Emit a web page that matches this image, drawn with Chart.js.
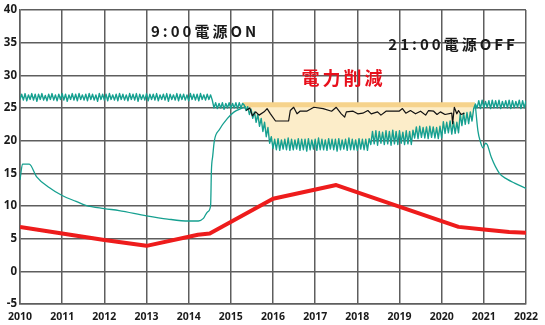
<!DOCTYPE html>
<html lang="ja">
<head>
<meta charset="utf-8">
<title>室温と電力削減</title>
<script src="https://cdn.jsdelivr.net/npm/chart.js@4/dist/chart.umd.min.js"></script>
<style>
  html, body { margin: 0; padding: 0; background: #fff; }
  #chart { display: block; }
</style>
</head>
<body>
<canvas id="chart" width="545" height="325"></canvas>
<script>
// x axis range and tick labels
const X_MIN = 2010;
const X_MAX = 2022;
const Y_MIN = -5;
const Y_MAX = 40;

// room temperature (controlled), sampled every ROOM_STEP from ROOM_START
const ROOM_START = 2010;
const ROOM_STEP = 0.04;
const roomTemp = [
  26.3, 27.1, 26.2, 27.2, 26.1, 27.0, 26.3, 27.2, 26.2, 27.1,
  26.0, 27.1, 26.3, 27.2, 26.2, 26.9, 26.1, 27.1, 26.3, 27.2,
  26.2, 27.0, 26.1, 27.1, 26.3, 27.2, 26.2, 27.1, 26.0, 27.0,
  26.3, 27.2, 26.2, 27.1, 26.1, 27.2, 26.3, 27.0, 26.2, 27.1,
  26.1, 27.2, 26.3, 27.1, 26.2, 27.0, 26.0, 27.2, 26.3, 27.1,
  26.2, 27.1, 26.1, 27.2, 26.3, 27.0, 26.2, 27.1, 26.1, 27.2,
  26.3, 27.1, 26.2, 27.0, 26.1, 27.2, 26.3, 27.1, 26.2, 27.2,
  26.0, 27.1, 26.3, 27.0, 26.2, 27.2, 26.1, 27.1, 26.3, 27.1,
  26.2, 27.2, 26.1, 27.0, 26.3, 27.1, 26.2, 27.2, 26.0, 27.1,
  26.3, 27.0, 26.2, 27.2, 26.1, 27.1, 26.3, 27.1, 26.2, 27.0,
  26.1, 27.2, 26.3, 27.1, 26.2, 27.1, 26.1, 27.2, 26.3, 27.0,
  26.2, 27.1, 26.3, 27.0, 26.2,
  25.0, 25.8, 24.9, 25.7, 25.0, 25.8, 24.8, 25.7, 25.0, 25.8,
  24.9, 25.7, 25.0, 25.8, 24.9, 25.8, 25.0, 25.7,
  25.4, 24.6, 25.2, 24.0, 24.8, 23.4, 24.4, 22.8, 24.0, 22.2,
  23.4, 21.4, 22.8, 20.6, 22.0, 19.6, 20.6, 18.8,
  20.2, 18.6, 20.3, 18.5, 20.1, 18.7, 20.2, 18.6, 20.4, 18.5,
  20.2, 18.6, 20.1, 18.7, 20.3, 18.5, 20.2, 18.6, 20.2, 18.4,
  20.3, 18.6, 20.1, 18.7, 20.2, 18.5, 20.4, 18.6, 20.2, 18.6,
  20.1, 18.5, 20.3, 18.7, 20.2, 18.6, 20.2, 18.4, 20.3, 18.6,
  20.1, 18.7, 20.2, 18.5, 20.4, 18.6, 20.2, 18.6, 20.1, 18.5,
  20.3, 18.7, 20.2, 18.6, 20.2, 18.5, 20.3,
  19.4, 21.4, 19.5, 21.5, 19.3, 21.4, 19.6, 21.3, 19.4, 21.5,
  19.5, 21.4, 19.3, 21.6, 19.5, 21.4, 19.4, 21.5, 19.6, 21.3,
  19.4, 21.5, 19.5, 21.4, 19.4, 21.6,
  20.4, 22.1, 20.3, 22.2, 20.5, 22.0, 20.4, 22.1, 20.3, 22.2,
  20.5, 22.1, 20.4, 22.0, 20.3, 22.2, 20.4,
  22.9, 21.1, 22.8, 21.2, 23.0, 21.0, 22.9, 21.1, 22.8, 21.2,
  24.1, 22.3, 24.2, 22.5, 24.3, 22.6, 24.4, 23.0,
  24.9, 25.6,
  25.0, 26.1, 24.9, 26.2, 25.0, 26.0, 25.1, 26.1, 24.9, 26.2,
  25.0, 26.1, 25.0, 26.2, 24.9, 26.0, 25.1, 26.1, 25.0, 26.2,
  24.9, 26.1, 25.0, 26.0, 25.1, 26.2, 24.9, 26.1, 25.0, 26.1
];

// room temperature without control (power off periods); null = hidden behind the controlled line
const freeX = [
  2010.0, 2010.06, 2010.22, 2010.39, 2010.7, 2011.0, 2011.33, 2011.56, 2012.0, 2012.35,
  2013.0, 2013.5, 2014.0, 2014.23, 2014.35, 2014.45, 2014.52, 2014.54, 2014.57, 2014.61,
  2014.73, 2014.92, 2015.08, 2015.24, 2015.36, 2018.0,
  2020.8, 2020.86, 2020.92, 2020.98, 2021.04, 2021.08, 2021.18, 2021.37, 2021.55, 2021.73, 2022.0
];
const freeTemp = [
  14.0, 16.4, 16.4, 14.5, 12.8, 11.6, 10.7, 10.1, 9.6, 9.3,
  8.5, 8.0, 7.7, 7.7, 8.1, 9.1, 10.0, 15.5, 17.6, 20.0,
  21.7, 23.4, 24.4, 24.9, 25.2, null,
  25.3, 21.5, 19.8, 18.9, 19.6, 19.4, 17.4, 15.0, 14.1, 13.5, 12.7
];

// set temperature under power saving
const savingX = [
  2015.36, 2015.45, 2015.51, 2015.59, 2015.67, 2015.79, 2015.86, 2015.94, 2016.06, 2016.37,
  2016.41, 2016.49, 2016.57, 2016.64, 2016.80, 2016.97, 2017.19, 2017.39, 2017.50, 2017.62,
  2017.70, 2017.74, 2017.90, 2018.01, 2018.13, 2018.25, 2018.33, 2018.48, 2018.56, 2018.68,
  2018.79, 2018.99, 2019.07, 2019.15, 2019.26, 2019.38, 2019.50, 2019.62, 2019.69, 2019.81,
  2019.89, 2019.97, 2020.08, 2020.24, 2020.26, 2020.30, 2020.36, 2020.40, 2020.46, 2020.54
];
const savingTemp = [
  24.6, 25.0, 23.8, 24.4, 23.9, 24.4, 24.9, 24.1, 23.0, 23.0,
  24.6, 25.1, 24.1, 24.5, 24.5, 25.1, 24.9, 24.5, 25.1, 24.1,
  23.6, 24.4, 24.5, 24.1, 24.2, 24.6, 24.1, 24.4, 23.9, 24.5,
  24.5, 24.5, 24.9, 24.2, 24.6, 24.1, 24.5, 23.9, 24.6, 24.5,
  24.0, 24.4, 24.0, 24.2, 22.6, 25.1, 24.1, 24.6, 24.0, 24.2
];

// outdoor temperature
const outdoorX = [2010, 2011, 2012, 2013, 2014.22, 2014.5, 2016, 2017.5, 2020.4, 2021, 2021.6, 2022];
const outdoorTemp = [6.8, 5.8, 4.8, 3.9, 5.6, 5.8, 11.1, 13.2, 6.8, 6.4, 6.0, 5.9];

// upper edge of the reduced-power band
const bandX = [2015.28, 2020.79];
const bandTemp = [25.5, 25.5];

// annotations
const noteTexts = ['9:00電源ON', '21:00電源OFF', '電力削減'];
const noteX = [2014.39, 2020.27, 2017.67];
const noteY = [36.8, 34.8, 29.6];

const toPoints = (xs, ys) => xs.map((x, i) => ({ x, y: ys[i] }));

const COLORS = {
  teal: '#16a090',
  red: '#ee1c1c',
  black: '#111111',
  band: '#f6d38c',
  bandFill: '#fcedc9',
  grid: '#5e5e5e',
  text: '#1a1a1a'
};

const NOTE_STYLES = [
  { font: 'bold 15px "Noto Sans CJK JP"', color: COLORS.text, spacing: '3px' },
  { font: 'bold 15px "Noto Sans CJK JP"', color: COLORS.text, spacing: '3px' },
  { font: 'bold 18px "Noto Sans CJK JP"', color: '#e8101c', spacing: '3px' }
];

const notesPlugin = {
  id: 'notes',
  afterDatasetsDraw(chart) {
    const { ctx, scales } = chart;
    ctx.save();
    ctx.textAlign = 'center';
    ctx.textBaseline = 'middle';
    noteTexts.forEach((text, i) => {
      const style = NOTE_STYLES[i];
      ctx.font = style.font;
      ctx.fillStyle = style.color;
      ctx.letterSpacing = style.spacing;
      ctx.fillText(text, scales.x.getPixelForValue(noteX[i]), scales.y.getPixelForValue(noteY[i]));
    });
    ctx.restore();
  }
};

const roomPoints = roomTemp.map((y, i) => ({ x: ROOM_START + i * ROOM_STEP, y }));

const tickFont = { family: '"Noto Sans"', weight: 'bold', size: 11 };

new Chart(document.getElementById('chart'), {
  type: 'line',
  data: {
    datasets: [
      {
        label: '削減帯',
        data: toPoints(bandX, bandTemp),
        borderColor: COLORS.band,
        borderWidth: 5,
        backgroundColor: COLORS.bandFill,
        fill: 1,
        order: 5
      },
      {
        label: '室温',
        data: roomPoints,
        borderColor: COLORS.teal,
        borderWidth: 1.4,
        order: 3
      },
      {
        label: '設定温度',
        data: toPoints(savingX, savingTemp),
        borderColor: COLORS.black,
        borderWidth: 1.2,
        order: 2
      },
      {
        label: '室温(電源OFF)',
        data: toPoints(freeX, freeTemp),
        borderColor: COLORS.teal,
        borderWidth: 1.3,
        cubicInterpolationMode: 'monotone',
        spanGaps: false,
        order: 4
      },
      {
        label: '外気温',
        data: toPoints(outdoorX, outdoorTemp),
        borderColor: COLORS.red,
        borderWidth: 4,
        order: 1
      }
    ]
  },
  options: {
    responsive: false,
    animation: false,
    elements: {
      point: { radius: 0 },
      line: { tension: 0, borderJoinStyle: 'round' }
    },
    layout: { padding: { top: 9, right: 13, left: 0, bottom: 0 } },
    plugins: {
      legend: { display: false },
      tooltip: { enabled: false }
    },
    scales: {
      x: {
        type: 'linear',
        min: X_MIN,
        max: X_MAX,
        afterFit: (scale) => { scale.height = 21; },
        afterBuildTicks: (scale) => {
          scale.ticks = [];
          for (let v = X_MIN; v <= X_MAX; v++) scale.ticks.push({ value: v });
        },
        grid: { color: COLORS.grid, lineWidth: 1.5, drawTicks: false },
        border: { color: COLORS.grid, width: 1.5 },
        ticks: {
          color: COLORS.text,
          font: { ...tickFont, size: 10.5 },
          padding: 7,
          maxRotation: 0,
          autoSkip: false,
          callback: (v) => String(v)
        }
      },
      y: {
        min: Y_MIN,
        max: Y_MAX,
        afterFit: (scale) => { scale.width = 20; },
        grid: { color: COLORS.grid, lineWidth: 1.5, drawTicks: false },
        border: { color: COLORS.grid, width: 1.5 },
        ticks: {
          stepSize: 5,
          color: COLORS.text,
          font: { ...tickFont, size: 11.5 },
          padding: 3
        }
      }
    }
  },
  plugins: [notesPlugin]
});
</script>
</body>
</html>
